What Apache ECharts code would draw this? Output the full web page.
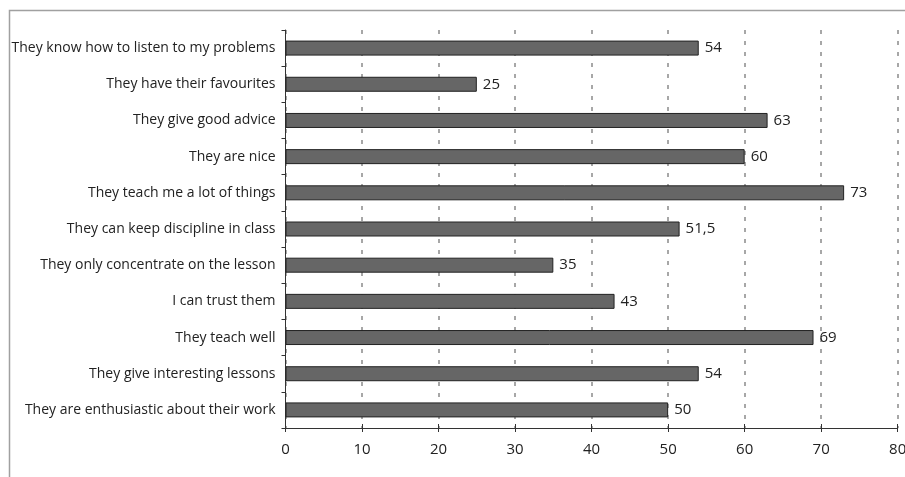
<!DOCTYPE html>
<html><head><meta charset="utf-8">
<script src="https://cdn.jsdelivr.net/npm/echarts@6/dist/echarts.min.js"></script>
<style>html,body{margin:0;padding:0;background:#fff}#c{width:905px;height:477px}</style>
</head><body><div id="c"></div>
<script>
const categories = [
  "They know how to listen to my problems",
  "They have their favourites",
  "They give good advice",
  "They are nice",
  "They teach me a lot of things",
  "They can keep discipline in class",
  "They only concentrate on the lesson",
  "I can trust them",
  "They teach well",
  "They give interesting lessons",
  "They are enthusiastic about their work"
];
const values = [54, 25, 63, 60, 73, 51.5, 35, 43, 69, 54, 50];
const xTicks = [0, 10, 20, 30, 40, 50, 60, 70, 80];

const FONT = "Open Sans";
const chart = echarts.init(document.getElementById('c'), null, {renderer: 'canvas'});
chart.setOption({
  animation: false,
  backgroundColor: '#fff',
  graphic: [{
    type: 'polyline', silent: true,
    shape: {points: [[9.5, 480], [9.5, 10.5], [910, 10.5]]},
    style: {stroke: '#a0a0a0', lineWidth: 1.5, fill: null}
  }],
  grid: {left: 285.5, right: 7.3, top: 30, bottom: 49, containLabel: false, outerBoundsMode: 'none'},
  xAxis: [{
    type: 'value', min: xTicks[0], max: xTicks[xTicks.length - 1], interval: 10,
    position: 'bottom',
    axisLine: {show: true, lineStyle: {color: '#333', width: 1}},
    axisTick: {show: true, length: 4, lineStyle: {color: '#333'}},
    axisLabel: {color: '#222', fontSize: 15, fontFamily: FONT, margin: 14},
    splitLine: {show: true, lineStyle: {color: '#8a8a8a', type: [4, 7], width: 1.5}}
  }, {
    type: 'value', min: xTicks[0], max: xTicks[xTicks.length - 1], interval: 10,
    position: 'bottom',
    axisLine: {show: false},
    axisTick: {show: true, inside: true, length: 4, lineStyle: {color: '#333'}},
    axisLabel: {show: false},
    splitLine: {show: false}
  }],
  yAxis: {
    type: 'category', data: categories, inverse: true,
    axisLine: {show: true, lineStyle: {color: '#333', width: 1}},
    axisTick: {show: true, length: 4, lineStyle: {color: '#333'}},
    axisLabel: {color: '#222', fontSize: 14, fontFamily: FONT, margin: 10},
    splitLine: {show: false}
  },
  series: [{
    type: 'bar', data: values, barWidth: 15, xAxisIndex: 0,
    itemStyle: {color: '#666666', borderColor: '#222', borderWidth: 1},
    label: {
      show: true, position: 'right', distance: 6, color: '#222', fontSize: 15, fontFamily: FONT,
      formatter: p => String(p.value).replace('.', ',')
    }
  }]
});
</script></body></html>
